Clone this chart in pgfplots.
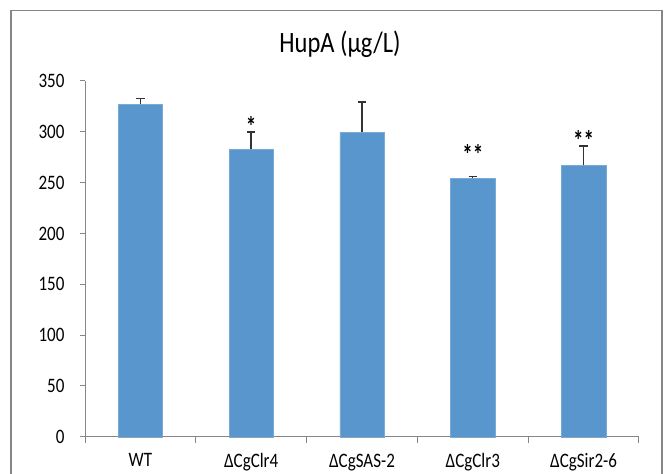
\documentclass[border=0pt]{standalone}
\usepackage{fontspec}
\setmainfont{Carlito}
\usepackage{graphicx}
\usepackage{pgfplots}
\pgfplotsset{compat=1.18}
\definecolor{barblue}{RGB}{88,150,205}
\definecolor{axisgray}{RGB}{134,134,134}
\newcommand\sq[1]{\scalebox{0.83}[1]{#1}}

\begin{document}
\begin{tikzpicture}[x=1pt,y=1pt]
\useasboundingbox (0,0) rectangle (667,474);
\draw[axisgray, line width=1.2pt] (11,-5) -- (11,463.4) -- (662,463.4) -- (662,-5);
\node[font=\fontsize{29.5}{30}\selectfont] at (340,430) {\sq{HupA (μg/L)}};

\begin{axis}[
    at={(85pt,37.3pt)}, anchor=south west,
    scale only axis, width=554pt, height=355.7pt,
    xmin=-0.5, xmax=4.5, ymin=0, ymax=350,
    axis x line*=bottom, axis y line*=left,
    axis line style={axisgray, line width=1pt},
    xtick={0,1,2,3,4},
    xticklabels={\sq{WT},\sq{ΔCgClr4},\sq{ΔCgSAS-2},\sq{ΔCgClr3},\sq{ΔCgSir2-6}},
    minor xtick={-0.5,0.5,1.5,2.5,3.5,4.5},
    major x tick style={draw=none},
    minor x tick style={axisgray, line width=1pt},
    minor tick length=6pt,
    ytick={0,50,...,350},
    y tick style={axisgray, line width=1pt},
    major tick length=5pt,
    tick align=outside,
    yticklabel={\sq{\pgfmathprintnumber{\tick}}},
    /pgf/number format/assume math mode=true,
    tick label style={font=\fontsize{20.5}{21}\selectfont},
    xticklabel style={yshift=-8.5pt},
    yticklabel style={xshift=-12pt},
    ybar, bar width=0.4,
    clip=false,
]
\addplot[fill=barblue, draw=barblue!80!white,
    error bars/.cd, y dir=plus, y explicit,
    error bar style={black!80, line width=1.4pt},
    error mark options={rotate=90, mark size=4.2pt, black!80, line width=1.4pt}]
coordinates {
    (0,327) +- (0,6)
    (1,282.8) +- (0,17)
    (2,299.5) +- (0,30)
    (3,254.3) +- (0,2)
    (4,267) +- (0,19)
};
\node[font=\bfseries\fontsize{28}{28}\selectfont] at (axis cs:1,305.6) {\scalebox{0.75}[1]{*}};
\node[font=\bfseries\fontsize{28}{28}\selectfont] at (axis cs:3,277.4) {\scalebox{0.75}[1]{**}};
\node[font=\bfseries\fontsize{28}{28}\selectfont] at (axis cs:4,291) {\scalebox{0.75}[1]{**}};
\end{axis}
\end{tikzpicture}
\end{document}
